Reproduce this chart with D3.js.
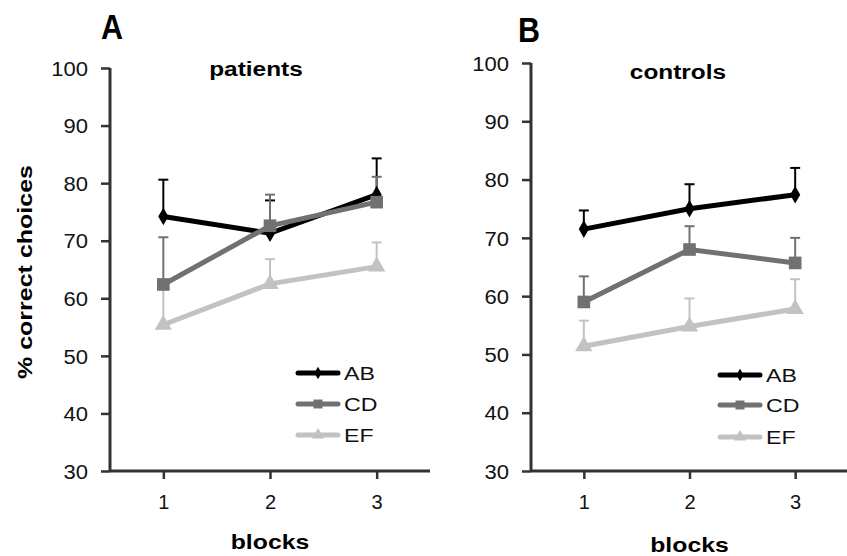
<!DOCTYPE html>
<html>
<head>
<meta charset="utf-8">
<script src="https://d3js.org/d3.v7.min.js"></script>
<style>
  body { margin: 0; background: #fff; }
  svg { display: block; font-family: "Liberation Sans", Arial, sans-serif; }
</style>
</head>
<body>
<svg width="847" height="556"></svg>
<script>
var blocks = [1, 2, 3];
var series = ["AB", "CD", "EF"];
var yTicks = [30, 40, 50, 60, 70, 80, 90, 100];

// panel A (patients): means and upper error bar ends
var patientsAB = [74.2, 71.3, 78.0];
var patientsCD = [62.4, 72.6, 76.7];
var patientsEF = [55.4, 62.5, 65.5];
var patientsABerr = [80.6, 77.0, 84.3];
var patientsCDerr = [70.6, 78.0, 81.1];
var patientsEFerr = [62.0, 66.8, 69.7];

// panel B (controls)
var controlsAB = [71.5, 75.0, 77.4];
var controlsCD = [59.0, 68.0, 65.7];
var controlsEF = [51.4, 54.8, 57.8];
var controlsABerr = [74.7, 79.2, 82.0];
var controlsCDerr = [63.4, 72.0, 70.0];
var controlsEFerr = [55.8, 59.6, 62.9];

var colors = { AB: "#000000", CD: "#717171", EF: "#c2c2c2" };
var symbols = { AB: d3.symbolDiamond, CD: d3.symbolSquare, EF: d3.symbolTriangle };
var symSize = { AB: 90, CD: 160, EF: 130 };

var svg = d3.select("svg");

// the original figure is a bit wider than tall, so widen the glyphs
function widen(sel, f) {
  sel.each(function() {
    var w = this.getComputedTextLength();
    d3.select(this).attr("textLength", w * f).attr("lengthAdjust", "spacingAndGlyphs");
  });
}

function drawPanel(opt) {
  var x = d3.scaleLinear().domain([0.5, 3.5]).range([opt.left, opt.right]);
  var y = d3.scaleLinear().domain([30, 100]).range([471, opt.top]);
  var g = svg.append("g");

  var yaxis = d3.axisLeft(y).tickValues(yTicks).tickSize(9).tickPadding(13);
  var yg = g.append("g").attr("transform", "translate(" + opt.left + ",0)").call(yaxis);
  var xaxis = d3.axisBottom(x).tickValues(blocks).tickFormat(d3.format("d")).tickSize(8).tickPadding(16);
  var xg = g.append("g").attr("transform", "translate(0,471)").call(xaxis);
  yg.select(".domain").attr("d", "M0," + opt.top + "V471");
  xg.select(".domain").attr("d", "M" + opt.left + ",0H" + opt.right);
  g.selectAll(".domain").attr("stroke", "#333").attr("stroke-width", 3);
  g.selectAll(".tick line").attr("stroke", "#333").attr("stroke-width", 2.5);
  yg.attr("font-size", 20).attr("font-family", null);
  xg.attr("font-size", 20).attr("font-family", null);
  g.selectAll(".tick text").attr("fill", "#111");
  yg.selectAll(".tick text").attr("dy", "0.36em");
  widen(yg.selectAll(".tick text"), 1.1);

  series.forEach(function(s) {
    var vals = opt.data[s], errs = opt.err[s];
    // error bars (upper only)
    blocks.forEach(function(b, i) {
      g.append("line").attr("x1", x(b)).attr("x2", x(b))
        .attr("y1", y(vals[i])).attr("y2", y(errs[i]))
        .attr("stroke", colors[s]).attr("stroke-width", 2);
      g.append("line").attr("x1", x(b) - 5).attr("x2", x(b) + 5)
        .attr("y1", y(errs[i])).attr("y2", y(errs[i]))
        .attr("stroke", colors[s]).attr("stroke-width", 2);
    });
  });
  series.forEach(function(s) {
    var vals = opt.data[s];
    var pts = blocks.map(function(b, i) { return [x(b), y(vals[i])]; });
    g.append("path").attr("d", d3.line()(pts)).attr("fill", "none")
      .attr("stroke", colors[s]).attr("stroke-width", 5);
    pts.forEach(function(p) {
      g.append("path").attr("d", d3.symbol().type(symbols[s]).size(symSize[s])())
        .attr("transform", "translate(" + p[0] + "," + p[1] + ")")
        .attr("fill", colors[s]);
    });
  });

  // legend
  series.forEach(function(s, i) {
    var ly = opt.legY[i];
    g.append("line").attr("x1", opt.legX).attr("x2", opt.legX + 40)
      .attr("y1", ly).attr("y2", ly)
      .attr("stroke", colors[s]).attr("stroke-width", 5).attr("stroke-linecap", "round");
    g.append("path").attr("d", d3.symbol().type(symbols[s]).size(symSize[s] * 0.5)())
      .attr("transform", "translate(" + (opt.legX + 20) + "," + ly + ")")
      .attr("fill", colors[s]);
    var t = g.append("text").text(s).attr("x", opt.legX + 46).attr("y", ly + 7)
      .attr("font-size", 19).attr("fill", "#111");
    widen(t, 1.22);
  });

  g.append("text").text(opt.letter).attr("x", opt.letterX).attr("y", opt.letterY)
    .attr("font-size", 35).attr("font-weight", "bold")
    .attr("textLength", 22).attr("lengthAdjust", "spacingAndGlyphs");
  var tt = g.append("text").text(opt.title).attr("x", opt.titleX).attr("y", opt.titleY)
    .attr("text-anchor", "middle").attr("font-size", 20).attr("font-weight", "bold");
  widen(tt, 1.22);
  var bt = g.append("text").text("blocks").attr("x", x(2)).attr("y", opt.blocksY)
    .attr("text-anchor", "middle").attr("font-size", 21).attr("font-weight", "bold");
  widen(bt, 1.18);
}

drawPanel({
  left: 110, right: 430, top: 68, letter: "A", letterX: 101, letterY: 39,
  title: "patients", titleX: 256, titleY: 76, blocksY: 549,
  legX: 298, legY: [373, 404, 435],
  data: { AB: patientsAB, CD: patientsCD, EF: patientsEF },
  err: { AB: patientsABerr, CD: patientsCDerr, EF: patientsEFerr }
});
drawPanel({
  left: 531, right: 848, top: 63, letter: "B", letterX: 518, letterY: 42,
  title: "controls", titleX: 678, titleY: 79, blocksY: 552,
  legX: 720, legY: [375, 405, 437],
  data: { AB: controlsAB, CD: controlsCD, EF: controlsEF },
  err: { AB: controlsABerr, CD: controlsCDerr, EF: controlsEFerr }
});

svg.append("text").text("% correct choices")
  .attr("transform", "translate(32,272) rotate(-90)")
  .attr("text-anchor", "middle").attr("font-size", 21).attr("font-weight", "bold")
  .attr("textLength", 214).attr("lengthAdjust", "spacingAndGlyphs");
</script>
</body>
</html>
